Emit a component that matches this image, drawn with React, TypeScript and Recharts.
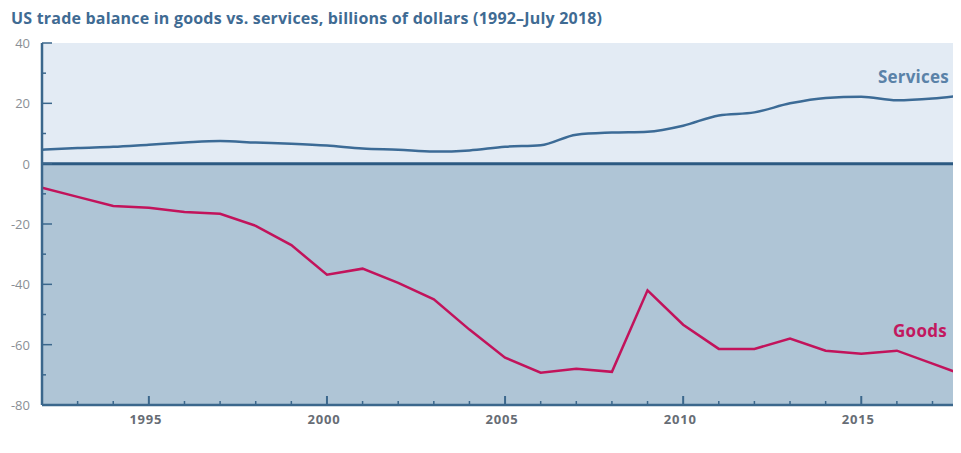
import React from "react";
import {
  Line,
  LineChart,
  ReferenceArea,
  ReferenceLine,
  XAxis,
  YAxis,
} from "recharts";

const years = [
  1992, 1993, 1994, 1995, 1996, 1997, 1998, 1999, 2000, 2001, 2002, 2003, 2004,
  2005, 2006, 2007, 2008, 2009, 2010, 2011, 2012, 2013, 2014, 2015, 2016, 2017,
  2018,
];
const services = [
  4.6, 5.2, 5.6, 6.3, 7.0, 7.5, 7.0, 6.6, 6.0, 5.0, 4.6, 4.0, 4.4, 5.6, 6.1,
  9.6, 10.3, 10.6, 12.6, 16.0, 17.0, 20.0, 21.8, 22.2, 21.0, 21.6, 22.9,
];
const goods = [
  -8.0, -11.0, -14.0, -14.6, -16.0, -16.6, -20.6, -27.0, -36.8, -34.8, -39.5,
  -45.0, -55.0, -64.3, -69.3, -68.0, -69.0, -42.0, -53.4, -61.4, -61.4, -58.0,
  -62.0, -63.0, -62.0, -66.3, -70.6,
];
const yTicks = [-80, -70, -60, -50, -40, -30, -20, -10, 0, 10, 20, 30, 40];
const xTicks = years.slice(0, 26);

const data = years.map((year, i) => ({
  year,
  services: services[i],
  goods: goods[i],
}));

const axisColor = "#3b678c";
const font = "'Open Sans', Lato, sans-serif";

function YTick(props: any) {
  const { x, y, payload } = props;
  const major = payload.value % 20 === 0;
  return (
    <g>
      <line
        x1={x}
        x2={x + (major ? 10 : 4)}
        y1={y}
        y2={y}
        stroke={axisColor}
        strokeWidth={1.5}
      />
      {major && (
        <text
          x={x - 12}
          y={y}
          dy={5}
          textAnchor="end"
          fontSize={13}
          fill="#8a8f95"
          fontFamily={font}
        >
          {payload.value}
        </text>
      )}
    </g>
  );
}

function XTick(props: any) {
  const { x, y, payload } = props;
  const major = payload.value % 5 === 0;
  return (
    <g>
      <line
        x1={x}
        x2={x}
        y1={y}
        y2={y - (major ? 9 : 4)}
        stroke={axisColor}
        strokeWidth={major ? 2 : 1.5}
      />
      {major && (
        <text
          x={x - 3}
          y={y}
          dy={19}
          textAnchor="middle"
          fontSize={13}
          fontWeight={700}
          letterSpacing={0.8}
          fill="#676d75"
          fontFamily={font}
        >
          {payload.value}
        </text>
      )}
    </g>
  );
}

export default function App() {
  return (
    <div
      style={{
        position: "relative",
        width: 961,
        height: 430,
        marginLeft: -8,
        fontFamily: font,
      }}
    >
      <div
        style={{
          position: "absolute",
          left: 11,
          top: -1,
          fontSize: 16,
          fontWeight: 700,
          letterSpacing: 0.2,
          color: "#3f6b93",
          whiteSpace: "nowrap",
        }}
      >
        US trade balance in goods vs. services, billions of dollars (1992–July 2018)
      </div>
      <div
        style={{
          position: "absolute",
          left: 878,
          top: 57,
          fontSize: 17,
          fontWeight: 700,
          letterSpacing: 0.2,
          color: "#5a82a8",
          zIndex: 1,
        }}
      >
        Services
      </div>
      <div
        style={{
          position: "absolute",
          left: 893,
          top: 311,
          fontSize: 17,
          fontWeight: 700,
          letterSpacing: 0.3,
          color: "#c2185f",
          zIndex: 1,
        }}
      >
        Goods
      </div>
      <LineChart
        width={961}
        height={430}
        data={data}
        margin={{ top: 35, right: 0, bottom: 3, left: 0 }}
      >
        <ReferenceArea y1={0} y2={40} fill="#e3ebf4" fillOpacity={1} stroke="none" />
        <ReferenceArea y1={-80} y2={0} fill="#afc5d6" fillOpacity={1} stroke="none" />
        <XAxis
          dataKey="year"
          type="number"
          domain={[1992, 2017.8]}
          allowDataOverflow
          ticks={xTicks}
          interval={0}
          tickSize={0}
          tickMargin={0}
          tick={<XTick />}
          axisLine={{ stroke: axisColor, strokeWidth: 2.5 }}
          height={30}
        />
        <YAxis
          type="number"
          domain={[-80, 40]}
          ticks={yTicks}
          interval={0}
          tickSize={0}
          tickMargin={0}
          tick={<YTick />}
          axisLine={{ stroke: axisColor, strokeWidth: 2.5 }}
          width={42}
        />
        <ReferenceLine y={0} stroke="#2c5a82" strokeWidth={3} />
        <Line
          type="monotone"
          dataKey="services"
          stroke="#3c6b96"
          strokeWidth={2.5}
          dot={false}
          isAnimationActive={false}
        />
        <Line
          type="linear"
          dataKey="goods"
          stroke="#c2135b"
          strokeWidth={2.5}
          dot={false}
          isAnimationActive={false}
        />
      </LineChart>
    </div>
  );
}
